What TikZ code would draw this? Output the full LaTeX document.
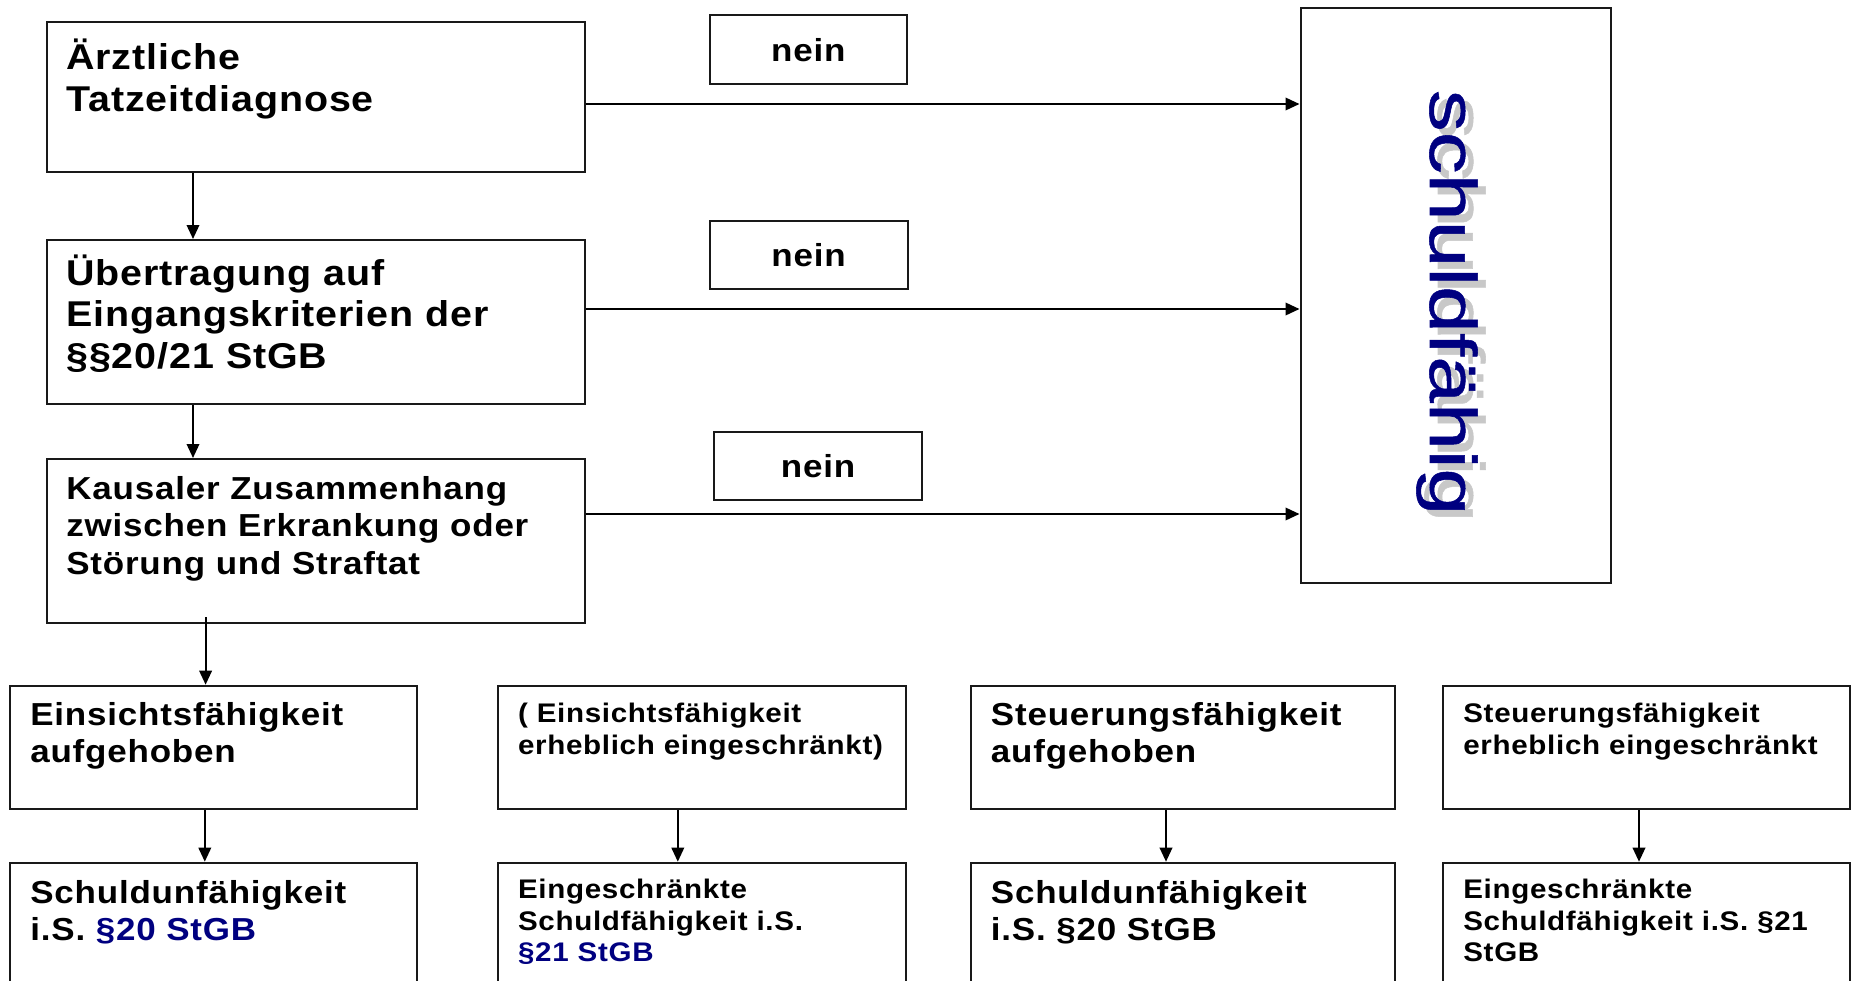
\documentclass[tikz,border=0pt]{standalone}
\usepackage{fontspec}
\setmainfont{Liberation Sans}[FakeStretch=1.1, LetterSpace=2.5]
\newfontfamily\signfont{Liberation Sans}[FakeStretch=1.28, FakeBold=0.8]
\usetikzlibrary{arrows.meta}
\definecolor{paranavy}{HTML}{000080}
\definecolor{shadowgray}{HTML}{C8C8C8}

\begin{document}
\begin{tikzpicture}[x=0.02cm, y=-0.02cm]

\def\px{0.02cm};
\def\bigsize{\fontsize{20.4pt}{23.8pt}\selectfont\bfseries};
\def\midsize{\fontsize{18.1pt}{21.5pt}\selectfont\bfseries};
\def\smallsize{\fontsize{15.3pt}{18.1pt}\selectfont\bfseries};
\tikzset{stage box/.style={
    rectangle,
    draw=black!90,
    line width=2*\px,
    inner sep=0
}};
\tikzset{stage text/.style={
    anchor=base west,
    inner sep=0,
    text width=15cm,
    align=left
}};
\tikzset{answer box/.style={
    stage box,
    font=\midsize
}};
\tikzset{sign text/.style={
    anchor=base,
    rotate=-90,
    inner sep=0,
    font=\signfont\fontsize{37.4pt}{40pt}\selectfont
}};
\tikzset{flow/.style={
    line width=2*\px,
    -{Triangle[length=0.28cm, width=0.25cm]}
}};

\useasboundingbox (0,0) rectangle (1854,981);
\clip (0,0) rectangle (1854,981);

% left column
\node[stage box, minimum width=537.7*\px, minimum height=150*\px] (diagnosis) at (315.65,96.7) {};
\node[stage box, minimum width=537.7*\px, minimum height=164.3*\px] (transfer) at (315.65,322.15) {};
\node[stage box, minimum width=537.7*\px, minimum height=164.3*\px] (causality) at (315.65,541.15) {};

\node[stage text, font=\bigsize] (diagnosistext) at (66,69.3) {Ärztliche\\Tatzeitdiagnose};
\node[stage text, font=\bigsize] (transfertext) at (66,285) {Übertragung auf\\Eingangskriterien der\\§§20/21 StGB};
\node[stage text, font=\midsize] (causalitytext) at (66,499) {Kausaler Zusammenhang\\zwischen Erkrankung oder\\Störung und Straftat};

% result box
\node[stage box, minimum width=310*\px, minimum height=574.7*\px] (guilty) at (1455.5,295.35) {};
\node[sign text, text=shadowgray] (guiltyshadow) at (1438,309.5) {schuldfähig};
\node[sign text, text=paranavy] (guiltytext) at (1430,302.5) {schuldfähig};

\node[answer box, minimum width=196.5*\px, minimum height=68.7*\px] (no1) at (808.25,49.65) {nein};
\node[answer box, minimum width=198*\px, minimum height=67.8*\px] (no2) at (808.5,254.9) {nein};
\node[answer box, minimum width=208*\px, minimum height=68.3*\px] (no3) at (818,465.85) {nein};

\foreach \from/\y [count=\i] in {diagnosis/104, transfer/309, causality/514} {
    \path[flow] (\from.east |- 0,\y) edge (guilty.west |- 0,\y);
}

\path[flow] (193,0 |- diagnosis.south) edge (193,0 |- transfer.north);
\path[flow] (193,0 |- transfer.south) edge (193,0 |- causality.north);

% bottom rows
\foreach \xl/\xr/\ax/\sz/\dyf/\dyv/\findingtxt/\verdicttxt [count=\i] in {
    10/416.7/204.8/\midsize/39.5/40.5/{Einsichtsfähigkeit\\aufgehoben}/{Schuldunfähigkeit\\i.S. \textcolor{paranavy}{§20 StGB}},
    497.7/905.5/677.8/\smallsize/36.5/35.5/{( Einsichtsfähigkeit\\erheblich eingeschränkt)}/{Eingeschränkte\\Schuldfähigkeit i.S.\\\textcolor{paranavy}{§21 StGB}},
    970.6/1394.7/1166/\midsize/39.5/40.5/{Steuerungsfähigkeit\\aufgehoben}/{Schuldunfähigkeit\\i.S. §20 StGB},
    1443/1850/1639/\smallsize/36.5/35.5/{Steuerungsfähigkeit\\erheblich eingeschränkt}/{Eingeschränkte\\Schuldfähigkeit i.S. §21\\StGB}
} {
    \node[stage box, minimum width={(\xr-\xl)*\px}, minimum height=123.3*\px] (finding\i) at ({(\xl+\xr)/2},747.35) {};
    \node[stage box, minimum width={(\xr-\xl)*\px}, minimum height=140*\px] (verdict\i) at ({(\xl+\xr)/2},932.7) {};
    \node[stage text, font=\sz] (findingtext\i) at (\xl+20,685.7+\dyf) {\findingtxt};
    \node[stage text, font=\sz] (verdicttext\i) at (\xl+20,862.7+\dyv) {\verdicttxt};
    \path[flow] (\ax,0 |- finding\i.south) edge (\ax,0 |- verdict\i.north);
}

\coordinate (causalityexit) at (205.6,617);
\path[flow] (causalityexit) edge (causalityexit |- finding1.north);
\end{tikzpicture}
\end{document}
